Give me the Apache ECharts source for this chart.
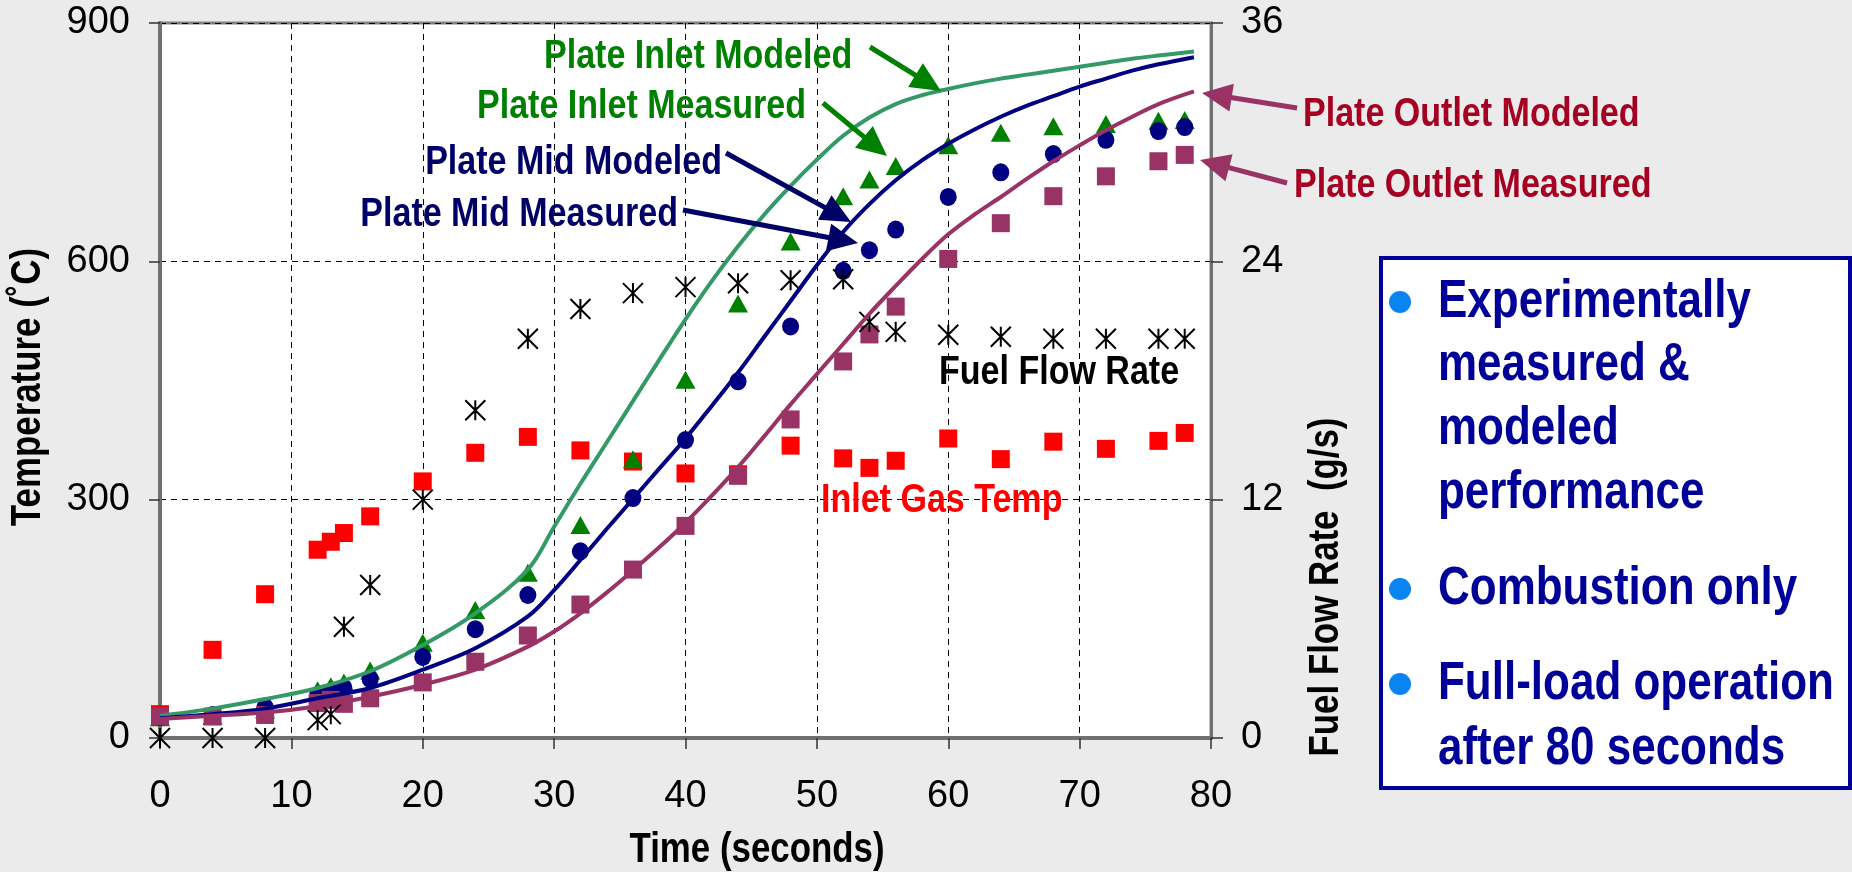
<!DOCTYPE html>
<html>
<head>
<meta charset="utf-8">
<title>Plate temperatures</title>
<style>
  html, body { margin: 0; padding: 0; background: #ebebeb; }
  #main { width: 1852px; height: 872px; }
</style>
</head>
<body>
<div id="main"></div>
<script src="https://cdn.jsdelivr.net/npm/echarts@6/dist/echarts.min.js"></script>
<script>
// measured points (seconds)
var measTime       = [0, 4, 8, 12, 13, 14, 16, 20, 24, 28, 32, 36, 40, 44, 48, 52, 54, 56, 60, 64, 68, 72, 76, 78];
var inletGasTemp   = [30, 111, 181, 237, 247, 258, 279, 323, 359, 379, 362, 348, 333, 332, 368, 352, 340, 349, 377, 351, 373, 364, 374, 384];
var fuelFlow       = [0, 0, 0, 0.9, 1.2, 5.6, 7.7, 12, 16.5, 20.1, 21.6, 22.4, 22.7, 22.9, 23.05, 23.1, 20.95, 20.45, 20.3, 20.2, 20.1, 20.1, 20.1, 20.1];
var inletMeasured  = [26, 28, 36, 60, 65, 70, 85, 120, 161, 208, 268, 351, 451, 547, 625, 682, 703, 720, 746, 762, 770, 773, 777, 778];
var midMeasured    = [26, 29, 39, 54, 58, 63, 74, 102, 137, 180, 235, 302, 375, 449, 518, 588, 614, 640, 681, 712, 735, 753, 764, 769];
var outletMeasured = [27, 27, 29, 44, 48, 43, 50, 70, 96, 129, 168, 212, 267, 330, 401, 474, 508, 543, 603, 648, 682, 707, 726, 734];

// modeled curves
var modelTime     = [0, 4, 8, 12, 16, 20, 24, 28, 30, 32, 34, 36, 38, 40, 42, 44, 46, 48, 50, 52, 54, 56, 58, 60, 62, 64, 66, 68, 70, 72, 74, 76, 78.7];
var inletModeled  = [28, 37, 49, 63, 84, 117, 157, 212, 266, 320, 372, 424, 476, 527, 575, 619, 659, 695, 728, 758, 781, 798, 809, 817, 824, 830, 835, 840, 845, 850, 855, 859, 864];
var midModeled    = [25, 30, 37, 50, 63, 86, 113, 153, 186, 224, 263, 301, 339, 377, 418, 460, 505, 550, 595, 637, 672, 702, 727, 748, 766, 782, 796, 808, 820, 830, 840, 848, 857];
var outletModeled = [24, 28, 32, 40, 52, 67, 86, 115, 134, 157, 183, 211, 240, 271, 305, 341, 380, 420, 458, 496, 534, 569, 603, 634, 659, 681, 704, 726, 746, 765, 782, 798, 814];

var timeTicks = [0, 10, 20, 30, 40, 50, 60, 70, 80];
var tempTicks = [0, 300, 600, 900];
var flowTicks = [0, 12, 24, 36];

// no narrow face installed: squeeze bold Liberation Sans instead
var BOLD = "bold {s}px 'Liberation Sans', Arial, sans-serif";
var NARROW_SCALE = 0.83;
var PLAIN = "'Liberation Sans', Arial, sans-serif";

function pairs(xs, ys) {
  return xs.map(function (x, i) { return [x, ys[i]]; });
}

var star = 'path://M0,0L20,20M20,0L0,20M10,0L10,20';

// annotation arrows: tail, tip (px)
function arrow(tail, tip, color) {
  var dx = tip[0] - tail[0], dy = tip[1] - tail[1];
  var len = Math.sqrt(dx * dx + dy * dy);
  var ux = dx / len, uy = dy / len;
  var hl = 30, hw = 14;
  var bx = tip[0] - ux * hl, by = tip[1] - uy * hl;
  return [
    { type: 'line', z: 100, shape: { x1: tail[0], y1: tail[1], x2: bx + ux * 4, y2: by + uy * 4 },
      style: { stroke: color, lineWidth: 5 } },
    { type: 'polygon', z: 100, shape: { points: [tip, [bx - uy * hw, by + ux * hw], [bx + uy * hw, by - ux * hw]] },
      style: { fill: color } }
  ];
}

function label(text, x, y, color, size, align, rot) {
  return { type: 'text', z: 100, x: x, y: y, scaleX: NARROW_SCALE, rotation: rot || 0,
    style: { text: text, fill: color, font: BOLD.replace('{s}', size),
             textAlign: align || 'left', textVerticalAlign: 'middle' } };
}

var green = '#008000', navy = '#000066', plum = '#993366', wine = '#a50021', boxBlue = '#000099';

var graphics = [];
graphics = graphics.concat(
  arrow([870, 47], [941, 91], green),
  arrow([823, 103], [887, 156], green),
  arrow([726, 153], [851, 222], navy),
  arrow([683, 210], [858, 243], navy),
  arrow([1297, 108], [1202, 93], plum),
  arrow([1287, 183], [1200, 160], plum)
);
graphics.push(
  label('Plate Inlet Modeled', 544, 57, green, 41),
  label('Plate Inlet Measured', 477, 107, green, 41),
  label('Plate Mid Modeled', 722, 163, navy, 41, 'right'),
  label('Plate Mid Measured', 678, 215, navy, 41, 'right'),
  label('Plate Outlet Modeled', 1303, 115, wine, 41),
  label('Plate Outlet Measured', 1294, 186, wine, 41),
  label('Fuel Flow Rate', 939, 373, '#000', 41),
  label('Inlet Gas Temp', 821, 501, '#ff0000', 41),
  label('Time (seconds)', 757, 850, '#000', 42, 'center'),
  label('Temperature (˚C)', 28, 387, '#000', 42, 'center', Math.PI / 2),
  label('Fuel Flow Rate  (g/s)', 1326, 587, '#000', 42, 'center', Math.PI / 2)
);

// side note box
var noteLines = [
  ['Experimentally', 315, true],
  ['measured &', 378, false],
  ['modeled', 442, false],
  ['performance', 506, false],
  ['Combustion only', 602, true],
  ['Full-load operation', 697, true],
  ['after 80 seconds', 762, false]
];
graphics.push({ type: 'rect', z: 90, shape: { x: 1381, y: 258, width: 469, height: 530 },
  style: { fill: '#fff', stroke: boxBlue, lineWidth: 4 } });
noteLines.forEach(function (l) {
  graphics.push(label(l[0], 1438, l[1] - 13, boxBlue, 53));
  if (l[2]) {
    graphics.push({ type: 'circle', z: 100, shape: { cx: 1400, cy: l[1] - 13, r: 11 },
      style: { fill: '#0a84f0' } });
  }
});

var chart = echarts.init(document.getElementById('main'));
var axisFont = { color: '#000', fontSize: 38, fontFamily: PLAIN };

chart.setOption({
  backgroundColor: '#ebebeb',
  animation: false,
  grid: {
    left: 160, right: 641, top: 23, bottom: 134,
    show: true, backgroundColor: '#fff', borderColor: '#808080', borderWidth: 3,
    outerBoundsMode: 'none'
  },
  xAxis: {
    type: 'value', min: timeTicks[0], max: timeTicks[timeTicks.length - 1], interval: 10,
    axisLine: { lineStyle: { color: '#707070', width: 4 } },
    axisTick: { show: true, length: 11, lineStyle: { color: '#333', width: 1.5 } },
    axisLabel: Object.assign({ margin: 40 }, axisFont),
    splitLine: { show: true, lineStyle: { color: '#000', width: 1, type: [6, 5] } }
  },
  yAxis: [{
    type: 'value', min: tempTicks[0], max: tempTicks[tempTicks.length - 1], interval: 300,
    axisLine: { show: true, lineStyle: { color: '#707070', width: 4 } },
    axisTick: { show: true, length: 11, lineStyle: { color: '#333', width: 1.5 } },
    axisLabel: Object.assign({ margin: 30 }, axisFont),
    splitLine: { show: true, lineStyle: { color: '#000', width: 1, type: [6, 5] } }
  }, {
    type: 'value', min: flowTicks[0], max: flowTicks[flowTicks.length - 1], interval: 12,
    position: 'right',
    axisLine: { show: true, lineStyle: { color: '#707070', width: 3 } },
    axisTick: { show: true, length: 12, lineStyle: { color: '#333', width: 1.5 } },
    axisLabel: Object.assign({ margin: 30 }, axisFont),
    splitLine: { show: false }
  }],
  series: [
    { name: 'Inlet Gas Temp', type: 'scatter', symbol: 'rect', symbolSize: 18,
      itemStyle: { color: '#ff0000', opacity: 1 }, data: pairs(measTime, inletGasTemp) },
    { name: 'Plate Inlet Measured', type: 'scatter', symbol: 'triangle', symbolSize: [20, 18],
      itemStyle: { color: '#008000', opacity: 1 }, data: pairs(measTime, inletMeasured) },
    { name: 'Plate Mid Measured', type: 'scatter', symbol: 'circle', symbolSize: [17, 18],
      itemStyle: { color: '#000080', opacity: 1 }, data: pairs(measTime, midMeasured) },
    { name: 'Plate Outlet Measured', type: 'scatter', symbol: 'rect', symbolSize: 18,
      itemStyle: { color: '#993366', opacity: 1 }, data: pairs(measTime, outletMeasured) },
    { name: 'Plate Inlet Modeled', type: 'line', showSymbol: false, smooth: 0.35,
      lineStyle: { color: '#339966', width: 4 }, data: pairs(modelTime, inletModeled) },
    { name: 'Plate Mid Modeled', type: 'line', showSymbol: false, smooth: 0.35,
      lineStyle: { color: '#000080', width: 4 }, data: pairs(modelTime, midModeled) },
    { name: 'Plate Outlet Modeled', type: 'line', showSymbol: false, smooth: 0.35,
      lineStyle: { color: '#993366', width: 4 }, data: pairs(modelTime, outletModeled) },
    { name: 'Fuel Flow Rate', type: 'scatter', yAxisIndex: 1, symbol: star, symbolSize: 20,
      itemStyle: { color: 'transparent', borderColor: '#000', borderWidth: 2, opacity: 1 },
      data: pairs(measTime, fuelFlow) }
  ],
  graphic: graphics
});
</script>
</body>
</html>
